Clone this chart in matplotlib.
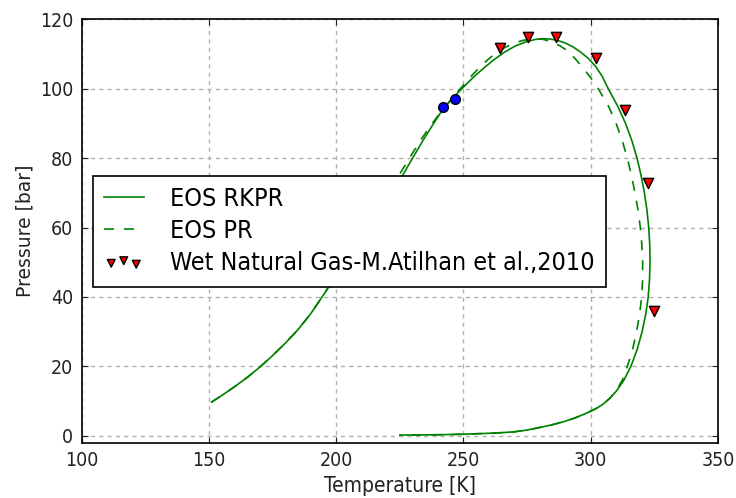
import matplotlib
matplotlib.use("Agg")
import matplotlib.pyplot as plt

# Phase envelope computed with the RKPR equation of state (T [K], P [bar])
rkpr_T = [151, 155, 160, 165, 170, 175, 180, 185, 190, 195, 200, 205, 210,
          215, 220, 226.3, 230, 234, 238, 242, 246, 250, 254, 258, 262, 266,
          270, 274, 278, 281, 284, 287, 290, 293, 296, 299, 302, 304.5, 306.9,
          310.6, 313.7, 316.2, 318.2, 319.8, 321.1, 322.1, 322.8, 323.2, 323.3,
          323.1, 322.6, 321.6, 320.2, 318.3, 315.8, 313.0, 310.2, 307.5, 305,
          302.5, 300, 297, 294, 290, 285, 280, 275, 270, 265, 260, 250, 240, 225]
rkpr_P = [9.7, 11.6, 14.1, 16.8, 19.8, 23.1, 26.7, 30.6, 35.2, 40.6, 46.3, 52.0,
          57.7, 63.3, 69.0, 75.3, 80.0, 85.0, 89.7, 94.2, 97.5, 100.5, 103.4,
          106.0, 108.4, 110.5, 112.2, 113.4, 114.2, 114.45, 114.35, 113.95,
          113.2, 112.1, 110.6, 108.8, 106.4, 103.6, 100.0,
          95, 90, 85, 80, 75, 70, 65, 60, 55, 50,
          45, 40, 35, 30, 25, 20, 16, 13, 10.8, 9.2,
          8.0, 7.1, 6.1, 5.2, 4.2, 3.2, 2.4, 1.65, 1.15, 0.9, 0.72, 0.45, 0.3, 0.2]

# Phase envelope computed with the Peng-Robinson equation of state
pr_T = [151, 155, 160, 165, 170, 175, 180, 185, 190, 195, 200, 205, 210,
        215, 220, 225, 229, 233, 237, 241, 245, 249, 253, 257, 261, 265, 269,
        273, 277, 281, 284, 287.9, 291, 294, 297, 300, 303,
        307.0, 310.0, 312.4, 314.4, 316.0, 317.4, 318.6, 319.5, 320.1, 320.4,
        320.4, 320.0, 319.2, 318.0, 316.5, 314.4, 312.4, 310.0, 307.5, 305,
        302.5, 300, 297, 294, 290, 285, 280, 275, 270, 265, 260, 250, 240, 225]
pr_P = [9.7, 11.6, 14.1, 16.8, 19.8, 23.1, 26.7, 30.6, 35.2, 40.6, 46.3, 52.0,
        57.7, 63.6, 69.6, 75.5, 80.3, 85.0, 89.3, 93.2, 96.8, 100.2, 103.6,
        106.7, 109.3, 111.4, 112.9, 113.9, 114.4, 114.3, 113.7, 112.4, 110.9,
        108.6, 106.0, 103.2, 100.0,
        95, 90, 85, 80, 75, 70, 65, 60, 55, 50,
        45, 40, 35, 30, 25, 20, 16, 13, 10.8, 9.2,
        8.0, 7.1, 6.1, 5.2, 4.2, 3.2, 2.4, 1.65, 1.15, 0.9, 0.72, 0.45, 0.3, 0.2]

# Experimental dew points (Atilhan et al., 2010)
exp_T = [264.2, 275.2, 286.2, 302.0, 313.4, 322.4, 324.8]
exp_P = [111.7, 114.8, 114.8, 108.8, 93.8, 72.8, 36.0]

# Calculated critical points
crit_T = [241.8, 246.6]
crit_P = [94.9, 97.1]

x_ticks = [100, 150, 200, 250, 300, 350]
y_ticks = [0, 20, 40, 60, 80, 100, 120]

plt.rcParams["font.family"] = ["DejaVu Sans"]
plt.rcParams["font.stretch"] = "condensed"

fig = plt.figure(figsize=(7.36, 4.98), dpi=100, facecolor="white")
ax = fig.add_axes([0.111, 0.111, 0.8645, 0.850])

green = (0.0, 0.5, 0.0)
ax.plot(rkpr_T, rkpr_P, color=green, lw=1.2, label="EOS RKPR")
ax.plot(pr_T, pr_P, color=green, lw=1.2, linestyle=(0, (6, 6)), label="EOS PR")
ax.scatter(exp_T, exp_P, marker="v", s=55, c="red", edgecolors="black",
           linewidths=1.0, zorder=3,
           label="Wet Natural Gas-M.Atilhan et al.,2010")
ax.plot(crit_T, crit_P, "o", color="blue", mec="black", mew=1.0, ms=7, zorder=3)

ax.set_xlim(100, 350)
ax.set_ylim(-2, 120)
ax.set_xticks(x_ticks)
ax.set_yticks(y_ticks)
ax.grid(True, color="#b0b0b0", linestyle=(0, (3, 3)), lw=1)
ax.set_axisbelow(True)
ax.tick_params(direction="in", top=True, right=True, length=4, labelsize=14,
               pad=6, colors="#222222")
for s in ax.spines.values():
    s.set_linewidth(1.2)

ax.set_xlabel("Temperature [K]", fontsize=15, color="#222222")
ax.set_ylabel("Pressure [bar]", fontsize=13.5, fontstretch="normal",
              color="#222222")

leg = ax.legend(loc="center left", bbox_to_anchor=(0.017, 0.5), fontsize=18,
                scatterpoints=3, scatteryoffsets=[0.4, 0.55, 0.35],
                markerscale=0.75, fancybox=False, framealpha=1,
                edgecolor="black", borderpad=0.45, labelspacing=0.33,
                handlelength=1.6, handletextpad=1.05, borderaxespad=0)
leg.get_frame().set_linewidth(1.2)

fig.savefig("out.png", dpi=100, facecolor="white")
